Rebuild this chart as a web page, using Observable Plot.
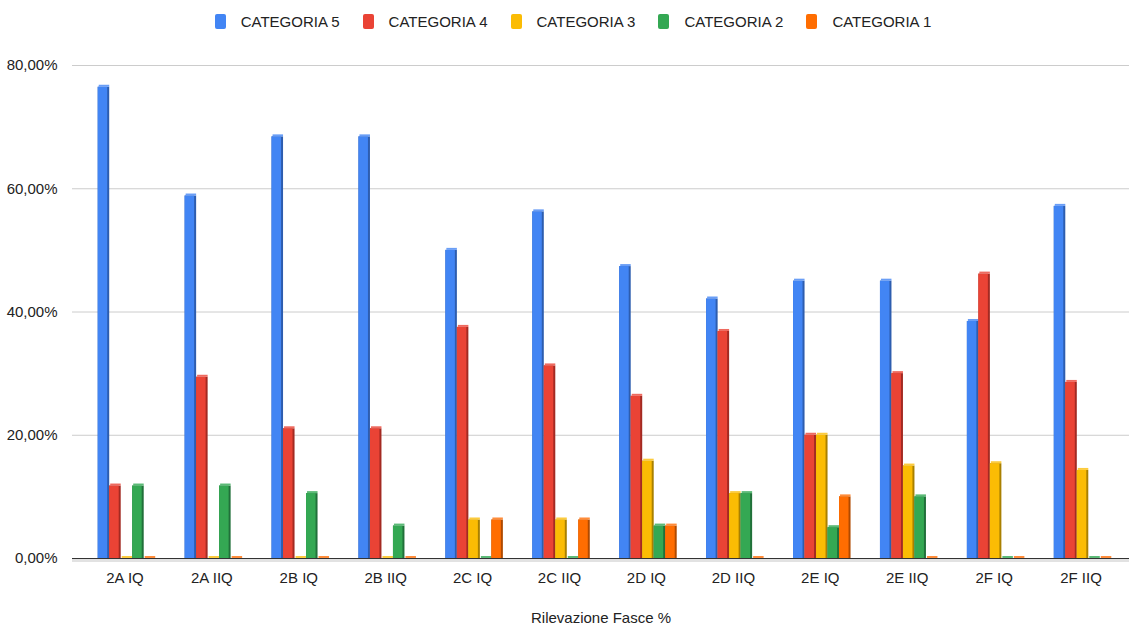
<!DOCTYPE html>
<html>
<head>
<meta charset="utf-8">
<script src="https://cdn.jsdelivr.net/npm/d3@7"></script>
<script src="https://cdn.jsdelivr.net/npm/@observablehq/plot@0.6"></script>
<style>
  html, body { margin: 0; padding: 0; background: #fff; }
  body { width: 1129px; height: 627px; overflow: hidden; font-family: Arial, "Liberation Sans", sans-serif; color: #222; }
  #legend { height: 42px; display: flex; justify-content: center; align-items: center; gap: 23px; padding-left: 17px; box-sizing: border-box; font-size: 15px; }
  #legend .item { display: flex; align-items: center; gap: 15px; }
  #legend .sw { width: 11px; height: 15px; border-radius: 2px; }
</style>
</head>
<body>
<div id="legend"></div>
<div id="chart"></div>
<script>
const groups = ["2A IQ", "2A IIQ", "2B IQ", "2B IIQ", "2C IQ", "2C IIQ", "2D IQ", "2D IIQ", "2E IQ", "2E IIQ", "2F IQ", "2F IIQ"];
const seriesNames = ["CATEGORIA 5", "CATEGORIA 4", "CATEGORIA 3", "CATEGORIA 2", "CATEGORIA 1"];
const cat5 = [76.47, 58.82, 68.42, 68.42, 50.00, 56.25, 47.37, 42.11, 45.00, 45.00, 38.46, 57.14];
const cat4 = [11.76, 29.41, 21.05, 21.05, 37.50, 31.25, 26.32, 36.84, 20.00, 30.00, 46.15, 28.57];
const cat3 = [0, 0, 0, 0, 6.25, 6.25, 15.79, 10.53, 20.00, 15.00, 15.38, 14.29];
const cat2 = [11.76, 11.76, 10.53, 5.26, 0, 0, 5.26, 10.53, 5.00, 10.00, 0, 0];
const cat1 = [0, 0, 0, 0, 6.25, 6.25, 5.26, 0, 10.00, 0, 0, 0];
const yTicks = [0, 20, 40, 60, 80];
const xTitle = "Rilevazione Fasce %";

const values = [cat5, cat4, cat3, cat2, cat1];
const colors = ["#4285F4", "#EA4335", "#FBBC04", "#34A853", "#FF6D01"];
const darks  = ["#2D5DAF", "#A32A22", "#A98000", "#21703A", "#B04A00"];
const lights = ["#6A9EF6", "#EE6A5F", "#FCCB3D", "#5CBA77", "#FF8C3A"];

const rows = seriesNames.flatMap((s, i) => groups.map((g, j) => ({group: g, series: s, value: values[i][j]})));

// legend
const legend = document.getElementById("legend");
seriesNames.forEach((s, i) => {
  const it = document.createElement("div");
  it.className = "item";
  it.innerHTML = `<span class="sw" style="background:${colors[i]}"></span><span>${s}</span>`;
  legend.appendChild(it);
});

const W = 1129, H = 585;
const xRange = [81, 1124];
const bw = (xRange[1] - xRange[0]) / groups.length;
const step = 11.5, half = step / 2;

const barMarks = seriesNames.flatMap((s, i) => {
  const data = rows.filter(d => d.series === s);
  const off = (i - 2) * step + 2;
  const L = bw / 2 + off - half;
  const R = bw / 2 - off - half;
  return [
    Plot.barY(data, {x: "group", y: "value", fill: darks[i], insetLeft: L, insetRight: R}),
    Plot.barY(data, {x: "group", y: "value", fill: colors[i], insetLeft: L, insetRight: R + 2}),
    Plot.barY(data, {x: "group", y1: "value", y2: "value", fill: lights[i], insetTop: -2, insetBottom: 0, insetLeft: L + 1, insetRight: R})
  ];
});

const chart = Plot.plot({
  width: W,
  height: H,
  marginTop: 23,
  marginBottom: 69,
  marginLeft: 72,
  marginRight: 0,
  style: {fontFamily: "Arial, 'Liberation Sans', sans-serif", fontSize: "15px", color: "#222", background: "#fff"},
  x: {domain: groups, range: xRange, padding: 0, round: false, tickSize: 0, tickPadding: 14, label: null},
  y: {domain: [0, 80], ticks: yTicks, tickSize: 0, tickPadding: 15, label: null,
      tickFormat: d => d.toFixed(2).replace(".", ",") + "%"},
  marks: [
    Plot.ruleY(yTicks.filter(t => t > 0), {stroke: "#cccccc", strokeWidth: 1}),
    Plot.ruleY([0], {stroke: "#e2e2e2", strokeWidth: 3, dy: 2}),
    ...barMarks,
    Plot.ruleY([0], {stroke: "#333333", strokeWidth: 1}),
    Plot.text([xTitle], {frameAnchor: "bottom", dy: 64, text: d => d, fontSize: 15, fill: "#222"})
  ]
});
document.getElementById("chart").appendChild(chart);
</script>
</body>
</html>
